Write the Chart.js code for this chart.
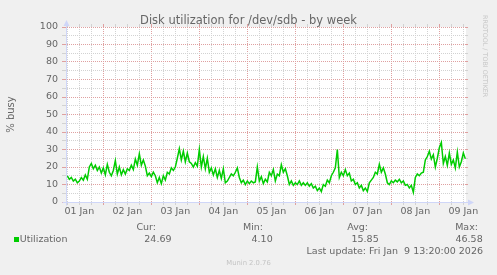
<!DOCTYPE html>
<html>
<head>
<meta charset="utf-8">
<script src="https://cdn.jsdelivr.net/npm/chart.js@4/dist/chart.umd.min.js"></script>
<style>
  html, body { margin: 0; padding: 0; background: #F0F0F0; }
  #wrap { position: relative; width: 497px; height: 275px; overflow: hidden; background: #F0F0F0; font-family: "DejaVu Sans", sans-serif; color: #666666; }
  #c { position: absolute; left: 0; top: 0; }
  .t { position: absolute; white-space: pre; font-size: 9.5px; line-height: 12px; }
  .r { text-align: right; }
  #sq { position: absolute; left: 14px; top: 237px; width: 5px; height: 5px; background: #00CC00; }
  #munin { position: absolute; left: 0; width: 497px; text-align: center; font-size: 6.8px; line-height: 12px; top: 256.6px; color: #C4C4C4; }
  #wm { position: absolute; left: 489.2px; top: 15px; width: max-content; font-size: 6.4px; line-height: 8px; white-space: pre; color: #C8C8C8; transform: rotate(90deg); transform-origin: 0 0; }
</style>
</head>
<body>
<div id="wrap">
  <canvas id="c" width="497" height="275"></canvas>
  <div class="t r" style="right:341px; top:220.7px;">Cur:</div>
  <div class="t r" style="right:234px; top:220.7px;">Min:</div>
  <div class="t r" style="right:129px; top:220.7px;">Avg:</div>
  <div class="t r" style="right:19px; top:220.7px;">Max:</div>
  <div id="sq"></div>
  <div class="t" id="sname" style="left:19.8px; top:232.7px;"></div>
  <div class="t r" id="vcur" style="right:325.5px; top:232.7px;"></div>
  <div class="t r" id="vmin" style="right:224.3px; top:232.7px;"></div>
  <div class="t r" id="vavg" style="right:118.3px; top:232.7px;"></div>
  <div class="t r" id="vmax" style="right:14.3px; top:232.7px;"></div>
  <div class="t r" id="lastupd" style="right:14px; top:244.7px;"></div>
  <div id="munin">Munin 2.0.76</div>
  <div id="wm">RRDTOOL / TOBI OETIKER</div>
</div>
<script>
// ---- data ----
const chartTitle = 'Disk utilization for /dev/sdb - by week';
const yAxisTitle = '% busy';
const seriesName = 'Utilization';
const dayLabels = ['01 Jan', '02 Jan', '03 Jan', '04 Jan', '05 Jan', '06 Jan', '07 Jan', '08 Jan', '09 Jan'];
const windowStartHour = 5.333;   // hours since 01 Jan 00:00
const windowEndHour = 205.333;   // 09 Jan 13:20
const sampleStartHour = 6;
const sampleStepHours = 1;
const utilization = [
  15, 13, 14, 12, 13, 11, 12, 14, 12.5, 15.5,
  13, 20, 22, 19, 21, 18, 20, 16.5, 19.5, 15.5,
  21.5, 17, 15, 18, 23.7, 16, 20, 15.5, 18.5, 16,
  19, 18, 21, 18.5, 24.5, 21, 27.5, 21, 24, 20.5,
  15, 16.5, 14.5, 17, 15, 11, 14, 10.5, 15, 12.5,
  17, 16, 19.5, 18, 20, 25, 30.5, 24, 29, 23,
  28, 23, 22, 20, 22.5, 20.5, 30, 20, 26, 19,
  25, 17, 19.5, 15.5, 19, 14, 18, 13.5, 19, 11,
  12, 14, 16, 15, 17, 19.5, 14, 11, 12.5, 10,
  12, 10.5, 12, 11, 11.5, 20, 12, 14.5, 10.5, 13,
  11.5, 17, 15, 18.5, 12, 16, 15, 21.3, 17, 19,
  15, 10, 12, 9.5, 11, 10, 12, 9.5, 11, 9.5,
  11, 9, 10.5, 8, 9, 6.5, 8, 6, 10, 9,
  12.5, 11, 15, 17, 19.5, 30, 14, 17, 15, 18.5,
  15, 16.5, 12, 13, 10, 11, 8, 9.5, 6.5, 8,
  6, 11, 12.5, 14, 17, 16, 21.5, 17, 19.5, 16,
  11, 10, 12, 11, 12.5, 11.5, 13, 11, 12, 9.5,
  10, 8, 9.5, 5.5, 14, 16, 15, 16.5, 17, 24,
  26, 29, 24.5, 27, 20, 25, 31, 34, 22, 26,
  21, 28, 21.5, 24, 19.5, 28.5, 20, 23, 28, 24.69
];
const statLabels = ['Cur:', 'Min:', 'Avg:', 'Max:'];
const statValues = ['24.69', '4.10', '15.85', '46.58'];
const lastUpdate = 'Last update: Fri Jan  9 13:20:00 2026';

// ---- styles ----
const FONT = 'DejaVu Sans';
const TEXT = '#666666';
const AXIS = '#CFD6F8';
const MAJOR = '#DFA0A0';
const MINOR = '#D2D2D2';

document.getElementById('sname').textContent = seriesName;
document.getElementById('vcur').textContent = statValues[0];
document.getElementById('vmin').textContent = statValues[1];
document.getElementById('vavg').textContent = statValues[2];
document.getElementById('vmax').textContent = statValues[3];
document.getElementById('lastupd').textContent = lastUpdate;

const points = utilization.map((v, i) => ({ x: sampleStartHour + i * sampleStepHours, y: v }));

const hourTicks = (scale) => {
  const t = [];
  for (let h = 6; h < windowEndHour; h += 6) t.push({ value: h });
  scale.ticks = t;
};
const xGridColor = (c) => (c.tick && c.tick.value % 24 === 0 ? MAJOR : MINOR);
const yGridColor = (c) => (!c.tick ? MINOR : (c.tick.value % 10 === 0 ? MAJOR : MINOR));

const decor = {
  id: 'decor',
  beforeDraw(chart) {
    const { ctx, chartArea: a } = chart;
    ctx.save();
    ctx.fillStyle = '#FFFFFF';
    ctx.fillRect(a.left, a.top, a.right - a.left, a.bottom - a.top);
    ctx.restore();
  },
  afterDraw(chart) {
    const { ctx, chartArea: a } = chart;
    const L = Math.round(a.left) + 0.5, B = Math.round(a.bottom) + 0.5;
    const R = Math.round(a.right), T = Math.round(a.top);
    ctx.save();
    ctx.strokeStyle = AXIS; ctx.fillStyle = AXIS; ctx.lineWidth = 1;
    ctx.beginPath();
    ctx.moveTo(L - 4, B); ctx.lineTo(R + 3, B);
    ctx.moveTo(L, B + 3); ctx.lineTo(L, T - 3);
    ctx.stroke();
    ctx.beginPath();
    ctx.moveTo(R + 2, B - 3); ctx.lineTo(R + 8, B); ctx.lineTo(R + 2, B + 3); ctx.closePath(); ctx.fill();
    ctx.beginPath();
    ctx.moveTo(L - 3, T - 1); ctx.lineTo(L, T - 7); ctx.lineTo(L + 3, T - 1); ctx.closePath(); ctx.fill();
    ctx.restore();
  }
};

new Chart(document.getElementById('c'), {
  type: 'line',
  data: {
    datasets: [{
      label: seriesName,
      data: points,
      borderColor: '#00CC00',
      backgroundColor: '#00CC00',
      borderWidth: 1.5,
      pointRadius: 0,
      tension: 0,
      fill: false
    }]
  },
  options: {
    responsive: false,
    animation: false,
    events: [],
    layout: { padding: { left: 0, right: 0, top: 0, bottom: 53 } },
    plugins: {
      legend: { display: false },
      tooltip: { enabled: false },
      title: {
        display: true,
        text: chartTitle,
        color: TEXT,
        font: { family: FONT, size: 11.5, weight: 'normal', lineHeight: 1 },
        padding: { top: 15.5, bottom: -3 }
      }
    },
    scales: {
      x: {
        type: 'linear',
        min: windowStartHour,
        max: windowEndHour,
        afterBuildTicks: hourTicks,
        afterFit: (scale) => { scale.height = 20; },
        ticks: {
          autoSkip: false,
          maxRotation: 0,
          minRotation: 0,
          padding: 1,
          color: TEXT,
          font: { family: FONT, size: 9.5 },
          callback: (v) => (v % 24 === 12 ? dayLabels[(v - 12) / 24] : '')
        },
        grid: {
          color: xGridColor,
          tickColor: xGridColor,
          lineWidth: 1,
          drawTicks: true,
          tickLength: 3
        },
        border: { display: true, color: AXIS, width: 1, dash: [1, 1] }
      },
      xTop: {
        type: 'linear',
        position: 'top',
        min: windowStartHour,
        max: windowEndHour,
        afterBuildTicks: hourTicks,
        afterFit: (scale) => { scale.height = 3; },
        ticks: { display: false, autoSkip: false, maxRotation: 0 },
        grid: {
          drawOnChartArea: false,
          color: xGridColor,
          tickColor: xGridColor,
          drawTicks: true,
          tickLength: 3
        },
        border: { display: false }
      },
      y: {
        type: 'linear',
        min: 0,
        max: 100,
        afterFit: (scale) => { scale.width = 66; },
        title: {
          display: true,
          text: yAxisTitle,
          color: TEXT,
          font: { family: FONT, size: 10, lineHeight: 1.2 },
          padding: { top: 5, bottom: 0 }
        },
        ticks: {
          stepSize: 5,
          autoSkip: false,
          padding: 4,
          color: TEXT,
          font: { family: FONT, size: 9.5 },
          callback: (v) => (v % 10 === 0 ? String(v) : '')
        },
        grid: {
          color: (c) => (c.tick && c.tick.value === 0 ? 'rgba(0,0,0,0)' : yGridColor(c)),
          tickColor: yGridColor,
          lineWidth: 1,
          drawTicks: true,
          tickLength: 4
        },
        border: { display: true, color: AXIS, width: 1, dash: [1, 1] }
      },
      yRight: {
        type: 'linear',
        position: 'right',
        min: 0,
        max: 100,
        afterFit: (scale) => { scale.width = 31; },
        ticks: { display: false, stepSize: 5, autoSkip: false },
        grid: {
          drawOnChartArea: false,
          color: yGridColor,
          tickColor: yGridColor,
          drawTicks: true,
          tickLength: 2
        },
        border: { display: false }
      }
    }
  },
  plugins: [decor]
});
</script>
</body>
</html>
